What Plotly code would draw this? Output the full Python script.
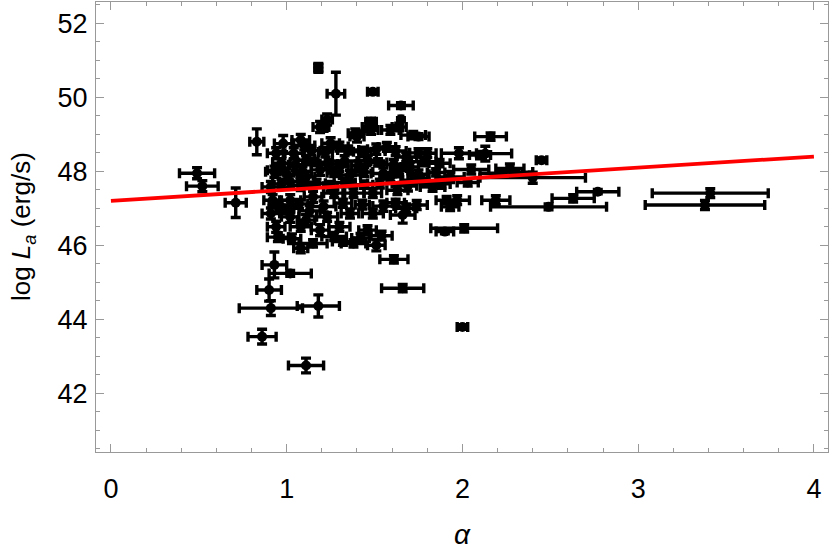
import plotly.graph_objects as go

# ---- data: (alpha, log L_a) with symmetric errors ----
alpha = [
    0.49, 0.52, 0.71, 0.83, 1.18, 1.28, 1.49, 1.65, 1.65, 1.48, 1.23,
    0.93, 1.02, 0.90, 0.91, 1.18, 0.86, 1.11, 2.00, 1.66, 1.61, 1.51, 1.66,
    2.16, 2.45, 2.13, 1.98, 2.27, 2.40, 1.97, 2.19, 2.49, 2.63, 2.77, 3.41, 3.38,
    2.01, 1.90, 2.10, 1.75, 2.05, 2.22, 1.93, 2.03, 2.30,
    0.98, 1.08, 1.10, 0.93, 1.19, 1.40, 1.48, 1.59, 0.94, 0.94, 1.04, 1.11,
    1.21, 1.25, 1.30, 1.39, 1.47, 1.64, 1.72, 1.57, 1.68, 1.80, 1.87, 1.46,
    1.30, 1.19, 1.11, 1.02, 0.91, 1.59, 1.72, 1.83, 1.91, 1.93, 0.92, 1.02,
    1.15, 1.27, 1.38, 1.49, 1.63, 0.91, 1.02, 1.11, 1.23, 1.36, 1.49, 0.94,
    1.08, 1.19, 1.30, 1.46, 1.08, 1.15, 1.38, 1.32,
    0.97, 1.05, 1.16, 1.24, 1.33, 1.41, 1.52, 1.61, 1.70, 1.78,
    1.00, 1.09, 1.27, 1.36, 1.44, 1.55, 1.64, 1.75, 1.85,
    0.97, 1.08, 1.17, 1.25, 1.33, 1.44, 1.53, 1.69, 1.79, 1.88,
    0.96, 1.07, 1.21, 1.32, 1.43, 1.55, 1.62, 1.74,
    0.99, 1.13, 1.68,
    1.14, 1.22, 1.35, 1.43, 1.51, 1.62, 1.75,
    0.95, 1.03, 1.27, 1.42, 1.54,
]
log_La = [
    47.95, 47.60, 47.15, 48.80, 50.80, 50.10, 50.15, 49.78, 49.40, 49.34, 49.40,
    45.47, 45.24, 44.79, 44.30, 44.36, 43.53, 42.75, 43.79, 44.84, 45.62, 46.00, 46.82,
    48.94, 48.30, 48.48, 48.49, 48.08, 47.83, 47.22, 47.22, 47.04, 47.27, 47.45, 47.41, 47.09,
    46.46, 46.37, 48.44, 48.94, 48.05, 47.95, 47.85, 47.70, 47.98,
    48.75, 48.85, 48.70, 47.99, 49.20, 48.94, 49.12, 49.12, 48.03, 48.49, 48.49, 48.30,
    49.20, 48.76, 48.67, 49.03, 49.20, 49.20, 48.98, 48.66, 48.39, 48.49, 48.22, 48.30,
    48.12, 48.04, 47.85, 47.72, 47.58, 47.85, 47.76, 47.58, 47.22, 47.04, 47.22, 47.22,
    47.31, 47.41, 47.41, 47.41, 47.49, 46.86, 46.77, 46.68, 46.77, 46.86, 46.86, 46.50,
    46.50, 46.41, 46.50, 46.41, 45.92, 46.05, 46.05, 46.10,
    48.22, 48.18, 48.25, 48.20, 48.28, 48.16, 48.24, 48.19, 48.12, 48.26,
    47.93, 48.00, 47.96, 47.90, 47.98, 47.94, 48.02, 47.92, 47.97,
    47.66, 47.62, 47.68, 47.60, 47.70, 47.64, 47.67, 47.61, 47.70, 47.66,
    47.08, 47.12, 47.05, 47.14, 47.10, 47.06, 47.15, 47.09,
    46.97, 46.93, 47.00,
    48.56, 48.52, 48.58, 48.53, 48.60, 48.55, 48.50,
    46.22, 46.18, 46.24, 46.20, 46.26,
]
alpha_err = [
    0.10, 0.09, 0.06, 0.04, 0.02, 0.05, 0.03, 0.07, 0.01, 0.03, 0.03,
    0.07, 0.12, 0.07, 0.18, 0.12, 0.08, 0.10, 0.03, 0.12, 0.08, 0.05, 0.07,
    0.09, 0.03, 0.15, 0.10, 0.08, 0.30, 0.07, 0.08, 0.33, 0.12, 0.12, 0.33, 0.34,
    0.19, 0.05, 0.06, 0.06, 0.10, 0.12, 0.08, 0.06, 0.10,
    0.05, 0.05, 0.06, 0.05, 0.04, 0.04, 0.04, 0.05, 0.05, 0.05, 0.06, 0.05,
    0.03, 0.05, 0.05, 0.04, 0.04, 0.04, 0.07, 0.05, 0.06, 0.05, 0.06, 0.05,
    0.05, 0.05, 0.05, 0.06, 0.05, 0.06, 0.06, 0.07, 0.06, 0.05, 0.05, 0.06,
    0.05, 0.06, 0.06, 0.05, 0.06, 0.05, 0.05, 0.05, 0.06, 0.05, 0.06, 0.05,
    0.06, 0.05, 0.06, 0.05, 0.04, 0.08, 0.07, 0.06,
    0.05, 0.04, 0.06, 0.05, 0.07, 0.04, 0.05, 0.06, 0.05, 0.07,
    0.06, 0.05, 0.04, 0.06, 0.05, 0.07, 0.05, 0.06, 0.05,
    0.05, 0.06, 0.05, 0.04, 0.06, 0.05, 0.07, 0.05, 0.06, 0.05,
    0.06, 0.05, 0.07, 0.05, 0.04, 0.06, 0.05, 0.06,
    0.05, 0.06, 0.06,
    0.05, 0.04, 0.06, 0.05, 0.05, 0.06, 0.05,
    0.06, 0.05, 0.07, 0.05, 0.06,
]
log_La_err = [
    0.15, 0.15, 0.40, 0.35, 0.12, 0.58, 0.06, 0.08, 0.05, 0.10, 0.15,
    0.35, 0.08, 0.30, 0.20, 0.30, 0.20, 0.20, 0.06, 0.10, 0.10, 0.15, 0.22,
    0.10, 0.06, 0.20, 0.15, 0.12, 0.15, 0.12, 0.12, 0.08, 0.10, 0.06, 0.12, 0.12,
    0.10, 0.06, 0.10, 0.08, 0.12, 0.10, 0.15, 0.10, 0.08,
    0.22, 0.15, 0.12, 0.15, 0.15, 0.15, 0.12, 0.12, 0.12, 0.15, 0.15, 0.12,
    0.12, 0.15, 0.12, 0.12, 0.12, 0.10, 0.10, 0.12, 0.12, 0.12, 0.10, 0.12,
    0.12, 0.15, 0.15, 0.15, 0.15, 0.12, 0.12, 0.12, 0.10, 0.10, 0.15, 0.15,
    0.15, 0.12, 0.12, 0.12, 0.12, 0.15, 0.15, 0.15, 0.12, 0.12, 0.12, 0.15,
    0.12, 0.15, 0.12, 0.12, 0.12, 0.10, 0.10, 0.10,
    0.12, 0.15, 0.10, 0.12, 0.14, 0.12, 0.10, 0.13, 0.12, 0.11,
    0.14, 0.12, 0.10, 0.13, 0.12, 0.15, 0.11, 0.12, 0.10,
    0.12, 0.14, 0.11, 0.13, 0.12, 0.10, 0.12, 0.14, 0.11, 0.12,
    0.13, 0.12, 0.15, 0.11, 0.12, 0.14, 0.10, 0.12,
    0.12, 0.14, 0.12,
    0.12, 0.13, 0.11, 0.12, 0.14, 0.12, 0.11,
    0.12, 0.13, 0.11, 0.12, 0.12,
]

# fitted relation log L_a = intercept + slope * alpha
fit_intercept = 47.20
fit_slope = 0.30
fit_alpha = [0.0, 4.0]
fit_logLa = [fit_intercept + fit_slope * a for a in fit_alpha]

x_tick_vals = [0, 1, 2, 3, 4]
y_tick_vals = [42, 44, 46, 48, 50, 52]

FONT = "Liberation Sans, Arial, sans-serif"

fig = go.Figure()
fig.add_trace(go.Scatter(
    x=alpha, y=log_La, mode="markers",
    marker=dict(color="black", size=10, symbol="circle"),
    error_x=dict(type="data", array=alpha_err, color="black", thickness=3.4, width=5),
    error_y=dict(type="data", array=log_La_err, color="black", thickness=3.4, width=5),
    showlegend=False, hoverinfo="skip",
))
fig.add_trace(go.Scatter(
    x=fit_alpha, y=fit_logLa, mode="lines",
    line=dict(color="#ff0000", width=3.8),
    showlegend=False, hoverinfo="skip",
))

axis_common = dict(
    showgrid=False, zeroline=False, showline=True, linecolor="#999999", linewidth=1.2,
    mirror="allticks", ticks="inside", tickcolor="#999999", ticklen=8, tickwidth=1,
    tickfont=dict(family=FONT, size=27, color="black"), automargin=False,
)

fig.update_xaxes(
    range=[-0.085, 4.08], tickvals=x_tick_vals,
    minor=dict(dtick=0.2, tick0=0, ticks="inside", ticklen=4, tickcolor="#999999", tickwidth=1),
    ticklabelstandoff=12,
    **axis_common,
)
fig.update_yaxes(
    range=[40.41, 52.58], tickvals=y_tick_vals,
    minor=dict(dtick=0.5, tick0=40, ticks="inside", ticklen=4, tickcolor="#999999", tickwidth=1),
    ticklabelstandoff=2,
    **axis_common,
)

fig.update_layout(
    width=830, height=556,
    margin=dict(l=96, r=2, t=2, b=104),
    plot_bgcolor="white", paper_bgcolor="white",
    annotations=[
        dict(text="<i>α</i>", xref="paper", yref="paper", x=0.5, y=-0.184,
             xanchor="center", yanchor="middle", showarrow=False,
             font=dict(family=FONT, size=28, color="black")),
        dict(text="log <i>L</i><sub><i>a</i></sub> (erg/s)", xref="paper", yref="paper",
             x=-0.101, y=0.5, xanchor="center", yanchor="middle", textangle=-90,
             showarrow=False, font=dict(family=FONT, size=26, color="black")),
    ],
)

fig.write_html(
    "out.html",
    config={"displayModeBar": False},
    post_script="document.body.style.margin='0';document.body.style.padding='0';",
)
